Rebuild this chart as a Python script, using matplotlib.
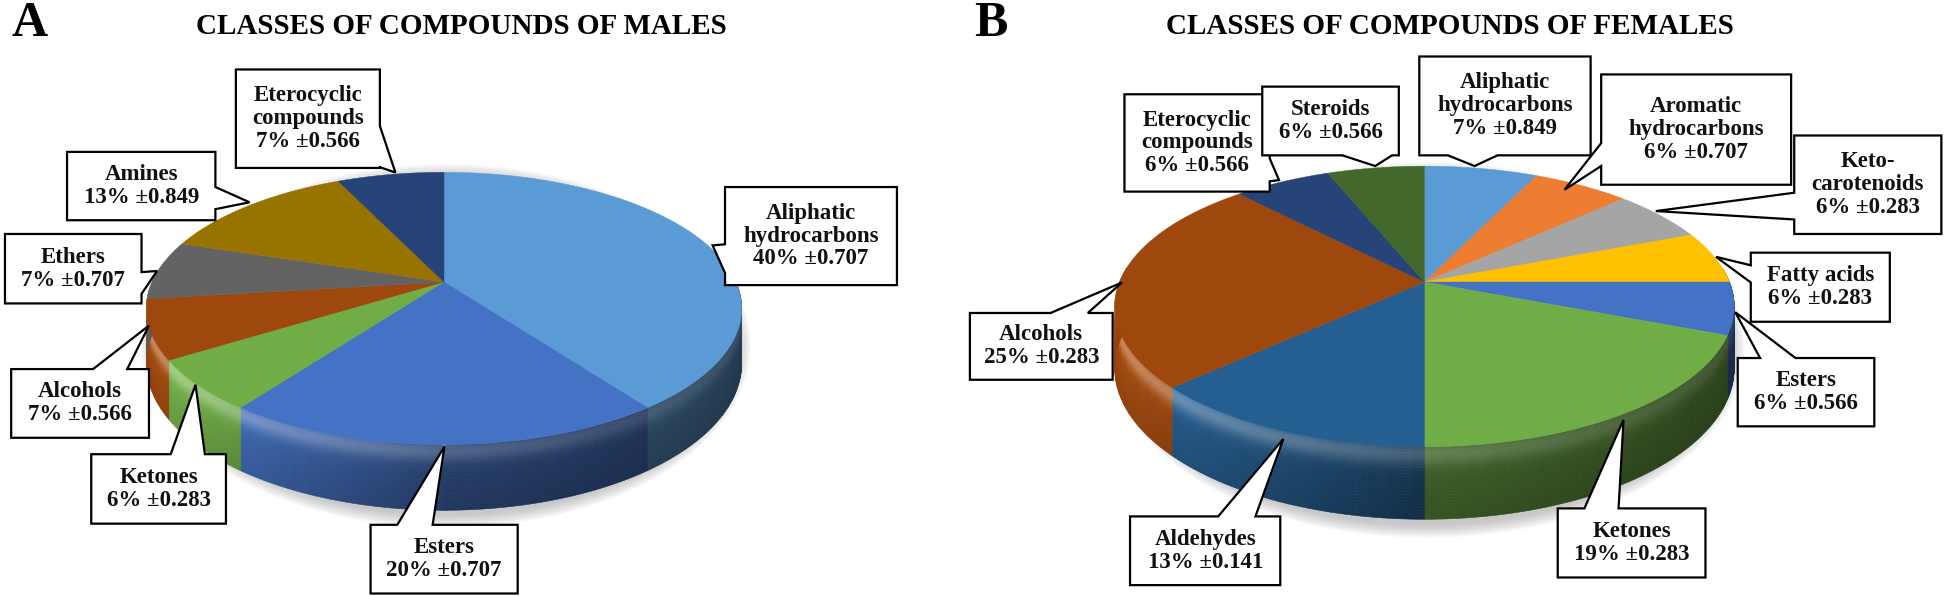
import numpy as np
from matplotlib import pyplot as plt
from matplotlib.collections import PolyCollection
from matplotlib.colors import to_rgb
from matplotlib.patches import Ellipse, Polygon

plt.rcParams['font.family'] = ['Liberation Serif', 'DejaVu Serif']

# data
male_names = ['Aliphatic\nhydrocarbons', 'Esters', 'Ketones', 'Alcohols', 'Ethers', 'Amines',
              'Eterocyclic\ncompounds']
male_values = [40, 20, 6, 7, 7, 13, 7]
male_errors = ['0.707', '0.707', '0.283', '0.566', '0.707', '0.849', '0.566']
male_colors = ['#5B9BD5', '#4472C4', '#70AD47', '#9E480E', '#636363', '#997300', '#264478']

female_names = ['Aliphatic\nhydrocarbons', 'Aromatic\nhydrocarbons', 'Keto-\ncarotenoids', 'Fatty acids',
                'Esters', 'Ketones', 'Aldehydes', 'Alcohols', 'Eterocyclic\ncompounds', 'Steroids']
female_values = [7, 6, 6, 6, 6, 19, 13, 25, 6, 6]
female_errors = ['0.849', '0.707', '0.283', '0.283', '0.566', '0.283', '0.141', '0.283', '0.566', '0.566']
female_colors = ['#5B9BD5', '#ED7D31', '#A5A5A5', '#FFC000', '#4472C4', '#70AD47', '#255E91', '#9E480E',
                 '#264478', '#43682B']

# callout layout, measured on half-figure crops: x0, x1, y0, y1, side, a, b, tip x, tip y
ZX, ZY = 1.611, 2.62
male_boxes = [
    (1168, 1445, 490, 747, 'left', 640, 715, 1148, 643),
    (597, 834, 1375, 1555, 'top', 640, 697, 716, 1170),
    (147, 364, 1190, 1372, 'top', 275, 330, 315, 1008),
    (18, 240, 967, 1147, 'top', 150, 205, 240, 853),
    (8, 228, 613, 795, 'right', 713, 770, 253, 710),
    (108, 347, 398, 577, 'right', 490, 548, 402, 530),
    (380, 612, 182, 440, 'right', 330, 438, 637, 452),
]
female_boxes = [
    (719, 995, 148, 407, 'bottom', 765, 845, 808, 435),
    (1012, 1318, 195, 484, 'left', 375, 435, 953, 497),
    (1323, 1560, 355, 613, 'left', 505, 575, 1100, 553),
    (1253, 1477, 662, 843, 'left', 695, 740, 1197, 673),
    (1232, 1452, 938, 1117, 'top', 1268, 1325, 1228, 818),
    (942, 1180, 1332, 1513, 'top', 985, 1040, 1048, 1100),
    (253, 495, 1353, 1533, 'top', 395, 455, 500, 1150),
    (-5, 225, 820, 995, 'top', 125, 185, 240, 740),
    (244, 478, 247, 502, 'right', 415, 475, 493, 472),
    (466, 686, 227, 407, 'bottom', 595, 675, 648, 435),
]


def project(theta, geo):
    # circle seen in perspective, theta clockwise from the far side
    w = 1 + geo['k'] * np.cos(theta)
    return geo['cx'] + geo['a'] * np.sin(theta) / w, geo['cy'] - geo['b'] * np.cos(theta) / w, w


def wall_shade(u, t):
    # u: -1 left .. 1 right, t: 0 rim .. 1 bottom of the wall
    side = np.interp(u, [-1, 0, 1], [1.0, 0.52, 0.38])
    glow = 0.32 * np.exp(-((t - 0.1) / 0.16) ** 2) * np.interp(u, [-1, 0, 1], [1.0, 0.6, 0.25])
    fade = np.interp(t, [0, 0.5, 1], [1.12, 1.0, 0.92])
    return side * fade, glow


def draw_pie(ax, values, colors, geo):
    fracs = np.cumsum([0] + list(values)) / sum(values) * 2 * np.pi

    # soft shadow under the disc
    for i in range(14):
        ax.add_patch(Ellipse((geo['cx'] + 2, geo['sy']), 2 * geo['a'] + 26 - 2 * i, 2 * geo['sb'] + 24 - 2 * i,
                             fc='#808080', ec='none', alpha=0.035, zorder=1))

    polys, cols = [], []
    for start, end, color in zip(fracs[:-1], fracs[1:], colors):
        rgb = np.array(to_rgb(color))
        n = max(int((end - start) * 70), 2)
        thetas = np.linspace(start, end, n + 1)
        rows = np.linspace(0, 1, 25)
        for t0, t1 in zip(thetas[:-1], thetas[1:]):
            if np.cos(t0) > 0.1 and np.cos(t1) > 0.1:
                continue
            x0, y0, w0 = project(t0, geo)
            x1, y1, w1 = project(t1, geo)
            for r0, r1 in zip(rows[:-1], rows[1:]):
                polys.append([(x0, y0 + geo['d'] * r0 / w0), (x1, y1 + geo['d'] * r0 / w1),
                              (x1, y1 + geo['d'] * r1 / w1), (x0, y0 + geo['d'] * r1 / w0)])
                u = (0.5 * (x0 + x1) - geo['cx']) / geo['a']
                dark, glow = wall_shade(u, 0.5 * (r0 + r1))
                c = rgb * dark
                cols.append(np.clip(c + (1 - c) * glow, 0, 1))
    ax.add_collection(PolyCollection(polys, facecolors=cols, edgecolors=cols, linewidths=0.4, zorder=2))

    # top surface
    for start, end, color in zip(fracs[:-1], fracs[1:], colors):
        thetas = np.linspace(start, end, 80)
        xs, ys, _ = project(thetas, geo)
        verts = np.column_stack([np.r_[geo['cx'], xs], np.r_[geo['cy'], ys]])
        ax.add_patch(Polygon(verts, closed=True, fc=color, ec=color, lw=0.3, zorder=3))


def draw_callouts(ax, names, values, errors, boxes, offset):
    for name, val, err, box in zip(names, values, errors, boxes):
        x0, x1, y0, y1, side, a, b, tx, ty = box
        x0, x1, tx = offset + x0 / ZX, offset + x1 / ZX, offset + tx / ZX
        y0, y1, ty = y0 / ZY, y1 / ZY, ty / ZY
        if side in ('top', 'bottom'):
            a, b = offset + a / ZX, offset + b / ZX
        else:
            a, b = a / ZY, b / ZY
        if side == 'top':
            pts = [(x0, y0), (a, y0), (tx, ty), (b, y0), (x1, y0), (x1, y1), (x0, y1)]
        elif side == 'right':
            pts = [(x0, y0), (x1, y0), (x1, a), (tx, ty), (x1, b), (x1, y1), (x0, y1)]
        elif side == 'bottom':
            pts = [(x0, y0), (x1, y0), (x1, y1), (b, y1), (tx, ty), (a, y1), (x0, y1)]
        else:
            pts = [(x0, y0), (x1, y0), (x1, y1), (x0, y1), (x0, b), (tx, ty), (x0, a)]
        ax.add_patch(Polygon(pts, closed=True, fc='white', ec='black', lw=1.6, joinstyle='miter', zorder=4))
        ax.text(0.5 * (x0 + x1), 0.5 * (y0 + y1), f'{name}\n{val}% ±{err}', ha='center', va='center',
                fontsize=16.5, fontweight='bold', linespacing=1.12, color='#111111', zorder=5)


fig = plt.figure(figsize=(19.46, 5.96), dpi=100)
ax = fig.add_axes([0, 0, 1, 1])
ax.set_xlim(0, 1946)
ax.set_ylim(596, 0)
ax.axis('off')

male_geo = {'cx': 444, 'cy': 282, 'a': 292, 'b': 131, 'k': 0.194, 'd': 53, 'sy': 346, 'sb': 170}
female_geo = {'cx': 1424.5, 'cy': 282, 'a': 305, 'b': 136, 'k': 0.174, 'd': 60, 'sy': 350, 'sb': 176}

draw_pie(ax, male_values, male_colors, male_geo)
draw_pie(ax, female_values, female_colors, female_geo)
draw_callouts(ax, male_names, male_values, male_errors, male_boxes, 0)
draw_callouts(ax, female_names, female_values, female_errors, female_boxes, 973)

ax.text(461, 27, 'CLASSES OF COMPOUNDS OF MALES', ha='center', va='center', fontsize=21, fontweight='bold')
ax.text(1450, 27, 'CLASSES OF COMPOUNDS OF FEMALES', ha='center', va='center', fontsize=21, fontweight='bold')
ax.text(30, 24, 'A', ha='center', va='center', fontsize=36, fontweight='bold')
ax.text(991, 24, 'B', ha='center', va='center', fontsize=36, fontweight='bold')

plt.savefig('out.png', dpi=100)
plt.close()
